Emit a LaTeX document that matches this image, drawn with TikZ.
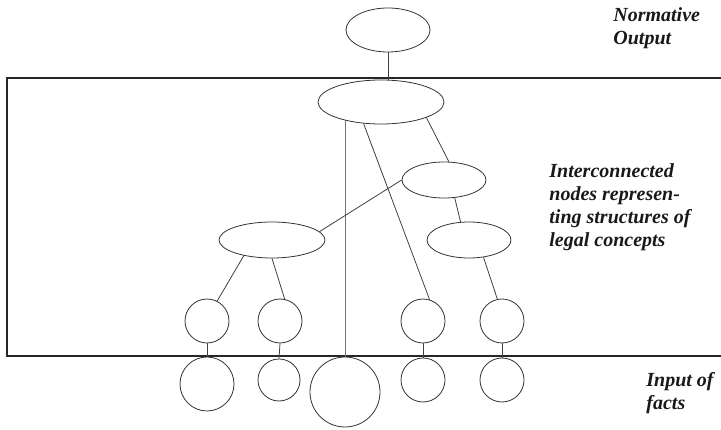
\documentclass[tikz,border=0pt]{standalone}
\usepackage{fontspec}
\setmainfont{Liberation Serif}
\usetikzlibrary{shapes.geometric}

\begin{document}
\begin{tikzpicture}[x=1pt, y=-1pt, line width=0.8pt,
    concept/.style 2 args={draw=black!80, ellipse, inner sep=0pt, minimum width=#1, minimum height=#2},
    fact/.style={draw=black!80, circle, inner sep=0pt, minimum size=#1},
    link/.style={draw=black!75},
    note/.style={anchor=north west, align=left, inner sep=0pt, text=black!90,
        font=\fontsize{20}{23}\selectfont\bfseries\itshape}]
\useasboundingbox (0,0) rectangle (721,430);
\clip (0,0) rectangle (721,430);

% frame round the concept network (open to the right)
\draw [line width=2.6pt, black!85] (7,78) rectangle (740,356);

% concepts
\node [concept={84pt}{44pt}] (output) at (388,30) {};
\node [concept={126pt}{44pt}] (root) at (381,102) {};
\node [concept={84pt}{36pt}] (midA) at (444,180) {};
\node [concept={84pt}{36pt}] (midB) at (469,240) {};
\node [concept={106pt}{36pt}] (left) at (272,240) {};

% facts, inside the frame
\node [fact=44pt] (f1) at (207,321) {};
\node [fact=44pt] (f2) at (280,321) {};
\node [fact=44pt] (f3) at (423,321) {};
\node [fact=44pt] (f4) at (502,321) {};

% facts, below the frame
\node [fact=54pt] (g1) at (207,384) {};
\node [fact=42pt] (g2) at (279,380) {};
\node [fact=70pt] (big) at (345,392) {};
\node [fact=44pt] (g3) at (423,380) {};
\node [fact=44pt] (g4) at (502,380) {};

% links
\draw [link] (output.south) -- (output.south |- root.north);
\draw [link, black!55] (root.207 -| big.north) -- (big.north);
\draw [link] (root.231) -- (f3.73);
\draw [link] (root.341) -- (midA.75);
\draw [link] (midA.west) -- (left.10);
\draw [link] (midA.301) -- (midB.115);
\draw [link] (midB.310) -- (f4.102);
\draw [link] (left.209) -- (f1.63);
\draw [link] (left.south) -- (f2.78);

\draw [link] (f1.south) -- (g1.north);
\draw [link] (f2.south) -- (g2.north);
\draw [link] (f3.south) -- (g3.north);
\draw [link] (f4.south) -- (g4.north);

% labels
\node [note] (normative) at (613,7) {Normative\\Output};
\node [note] (network) at (549,163) {Interconnected\\nodes represen-\\ting structures of\\legal concepts};
\node [note] (input) at (646,372) {Input of\\facts};

\end{tikzpicture}
\end{document}
